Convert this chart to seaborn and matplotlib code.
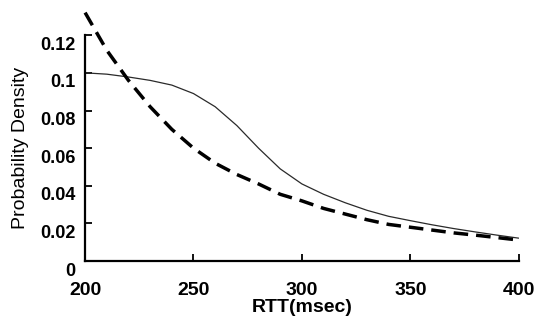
import matplotlib
matplotlib.use("Agg")
import matplotlib.pyplot as plt
import matplotlib.transforms as mtransforms
import seaborn as sns
import numpy as np

sns.set_theme(style="white")
plt.rcParams['font.family'] = ['Liberation Sans', 'DejaVu Sans']

rtt = [200, 210, 220, 230, 240, 250, 260, 270, 280, 290, 300,
       310, 320, 330, 340, 350, 360, 370, 380, 390, 400]
# thin curve (measured)
measured = [0.100, 0.0993, 0.0978, 0.096, 0.0935, 0.089, 0.082, 0.072, 0.060, 0.049, 0.041,
            0.0355, 0.031, 0.027, 0.0238, 0.0215, 0.0193, 0.0173, 0.0155, 0.0138, 0.0122]
# thick dashed curve (model)
model = [0.132, 0.112, 0.096, 0.082, 0.070, 0.060, 0.052, 0.046, 0.041, 0.0355, 0.032,
         0.028, 0.025, 0.022, 0.0195, 0.018, 0.0165, 0.015, 0.0138, 0.0125, 0.0112]

xticks = [200, 250, 300, 350, 400]
yticks = [0, 0.02, 0.04, 0.06, 0.08, 0.1, 0.12]
ytick_labels = ['0', '0.02', '0.04', '0.06', '0.08', '0.1', '0.12']

fig = plt.figure(figsize=(5.42, 3.2), dpi=100)
ax = fig.add_axes([0.157, 0.184, 0.800, 0.706])

sns.lineplot(x=rtt, y=measured, ax=ax, color='#2a2a2a', lw=0.9)
line = sns.lineplot(x=rtt, y=model, ax=ax, color='black', lw=2.5).lines[-1]
line.set_dashes((4.2, 2.3))
line.set_clip_on(False)

ax.set_xlim(200, 400)
ax.set_ylim(0, 0.12)
ax.set_xticks(xticks)
ax.set_yticks(yticks)
ax.set_yticklabels(ytick_labels)

for s in ['top', 'right']:
    ax.spines[s].set_visible(False)
for s in ['left', 'bottom']:
    ax.spines[s].set_color('black')
    ax.spines[s].set_linewidth(1.6)

ax.tick_params(axis='x', bottom=True, direction='in', length=5, width=1.3, pad=15,
               labelsize=14, colors='black')
ax.tick_params(axis='y', left=True, direction='in', length=5, width=1.3, pad=7,
               labelsize=13, colors='black')
for lab in ax.get_xticklabels() + ax.get_yticklabels():
    lab.set_fontweight('bold')

# y tick labels sit a little below their ticks in the original
off = mtransforms.ScaledTranslation(0, -8 / 100, fig.dpi_scale_trans)
for lab in ax.get_yticklabels():
    lab.set_transform(lab.get_transform() + off)

ax.set_xlabel('RTT(msec)', fontsize=14, fontweight='bold', labelpad=0, color='black')
ax.set_ylabel('Probability Density', fontsize=14, labelpad=8, color='black')

fig.savefig('out.png', dpi=100)
